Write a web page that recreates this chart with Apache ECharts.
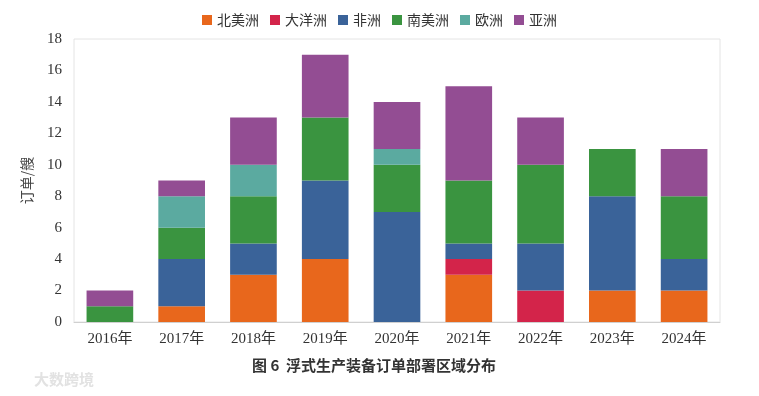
<!DOCTYPE html>
<html>
<head>
<meta charset="utf-8">
<script src="https://cdn.jsdelivr.net/npm/echarts@6/dist/echarts.min.js"></script>
<style>
  html, body { margin: 0; padding: 0; background: #fff; }
  #main { width: 759px; height: 396px; }
</style>
</head>
<body>
<div id="main"></div>
<script>
var years = ['2016年', '2017年', '2018年', '2019年', '2020年', '2021年', '2022年', '2023年', '2024年'];
var northAmerica = [0, 1, 3, 4, 0, 3, 0, 2, 2];
var oceania = [0, 0, 0, 0, 0, 1, 2, 0, 0];
var africa = [0, 3, 2, 5, 7, 1, 3, 6, 2];
var southAmerica = [1, 2, 3, 4, 3, 4, 5, 3, 4];
var europe = [0, 2, 2, 0, 1, 0, 0, 0, 0];
var asia = [1, 1, 3, 4, 3, 6, 3, 0, 3];

var names = ['北美洲', '大洋洲', '非洲', '南美洲', '欧洲', '亚洲'];
var values = [northAmerica, oceania, africa, southAmerica, europe, asia];
var colors = ['#E8671C', '#D3244A', '#3A6399', '#3A9440', '#5BAAA0', '#934D93'];

var serif = '"Liberation Serif", "Noto Sans CJK SC", serif';

var chart = echarts.init(document.getElementById('main'));

var series = names.map(function (name, i) {
    return {
        name: name,
        type: 'bar',
        stack: 'total',
        barWidth: '65%',
        itemStyle: { color: colors[i] },
        data: values[i].map(function (v) { return v === 0 ? null : v; })
    };
});

chart.setOption({
    animation: false,
    color: colors,
    legend: {
        top: 8,
        left: 'center',
        itemWidth: 10,
        itemHeight: 10,
        itemGap: 11,
        icon: 'rect',
        textStyle: { fontFamily: '"Noto Sans CJK SC"', fontSize: 14, color: '#333' },
        data: names
    },
    grid: {
        left: 74,
        right: 39,
        top: 39,
        bottom: 74,
        show: true,
        borderColor: '#e4e4e4',
        borderWidth: 1
    },
    xAxis: {
        type: 'category',
        data: years,
        axisLine: { lineStyle: { color: '#d0d0d0' } },
        axisTick: { show: false },
        axisLabel: { color: '#333', fontSize: 15, fontFamily: serif, margin: 10 }
    },
    yAxis: {
        type: 'value',
        min: 0,
        max: 18,
        interval: 2,
        name: '订单/艘',
        nameLocation: 'middle',
        nameGap: 40,
        nameRotate: 90,
        nameTextStyle: { color: '#444', fontSize: 14, fontFamily: '"Noto Sans CJK SC"' },
        axisLine: { show: false },
        axisTick: { show: false },
        splitLine: { show: false },
        axisLabel: { color: '#333', fontSize: 15, fontFamily: serif, margin: 12 }
    },
    graphic: [
        {
            type: 'text',
            left: 252,
            top: 358,
            style: {
                text: '图 6  浮式生产装备订单部署区域分布',
                font: 'bold 15px "Noto Sans CJK SC"',
                fill: '#333'
            }
        },
        {
            type: 'text',
            left: 34,
            top: 372,
            style: {
                text: '大数跨境',
                font: 'bold 15px "Noto Sans CJK SC"',
                fill: '#e2e2e2'
            }
        }
    ],
    series: series
});
</script>
</body>
</html>
